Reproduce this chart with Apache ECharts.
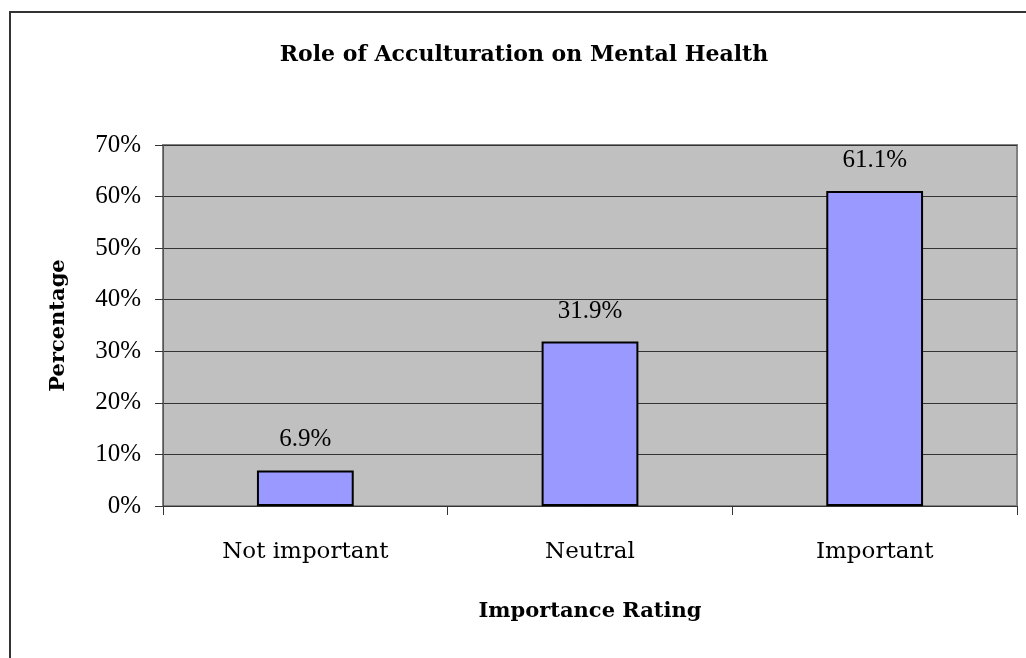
<!DOCTYPE html>
<html>
<head>
<meta charset="utf-8">
<script src="https://cdn.jsdelivr.net/npm/echarts@6/dist/echarts.min.js"></script>
<style>
  html, body { margin: 0; padding: 0; background: #fff; }
  #chart { width: 1026px; height: 658px; }
</style>
</head>
<body>
<div id="chart"></div>
<script>
const categories = ['Not important', 'Neutral', 'Important'];
const percentages = [6.9, 31.9, 61.1];
const yTicks = { min: 0, max: 70, interval: 10 };

const serif = '"DejaVu Serif", serif';
const timesLike = '"Liberation Serif", "Times New Roman", serif';

const chart = echarts.init(document.getElementById('chart'));

chart.setOption({
  animation: false,
  backgroundColor: '#fff',
  graphic: [
    {
      type: 'rect',
      shape: { x: 10, y: 12, width: 1040, height: 680 },
      style: { fill: 'none', stroke: '#333', lineWidth: 2 },
      silent: true,
    },
    {
      type: 'text',
      x: 524,
      y: 55,
      style: {
        text: 'Role of Acculturation on Mental Health',
        font: 'bold 22px ' + serif,
        fill: '#000',
        align: 'center',
        verticalAlign: 'middle',
      },
    },
  ],
  grid: {
    left: 163,
    top: 145,
    right: 9,
    bottom: 152,
    show: true,
    backgroundColor: '#C0C0C0',
    borderColor: '#808080',
    borderWidth: 2,
  },
  xAxis: {
    type: 'category',
    data: categories,
    name: 'Importance Rating',
    nameLocation: 'middle',
    nameGap: 95,
    nameTextStyle: { fontFamily: serif, fontWeight: 'bold', fontSize: 21, color: '#000' },
    axisLine: { lineStyle: { color: '#333', width: 1 } },
    axisTick: { show: true, length: 9, lineStyle: { color: '#333' } },
    axisLabel: { fontFamily: serif, fontSize: 23, color: '#000', margin: 35 },
  },
  yAxis: {
    type: 'value',
    min: yTicks.min,
    max: yTicks.max,
    interval: yTicks.interval,
    name: 'Percentage',
    nameLocation: 'middle',
    nameRotate: 90,
    nameGap: 94,
    nameTextStyle: { fontFamily: serif, fontWeight: 'bold', fontSize: 21, color: '#000' },
    axisLine: { show: true, lineStyle: { color: '#555', width: 1 } },
    axisTick: { show: true, length: 8, lineStyle: { color: '#333' } },
    axisLabel: {
      fontFamily: timesLike,
      fontSize: 25,
      color: '#000',
      margin: 22,
      formatter: '{value}%',
    },
    splitLine: { lineStyle: { color: '#333', width: 1 } },
  },
  series: [
    {
      type: 'bar',
      data: percentages,
      barWidth: '34%',
      itemStyle: { color: '#9999FF', borderColor: '#000', borderWidth: 2 },
      label: {
        show: true,
        position: 'top',
        distance: 18,
        fontFamily: timesLike,
        fontSize: 25,
        color: '#000',
        formatter: (p) => p.value.toFixed(1) + '%',
      },
    },
  ],
});
</script>
</body>
</html>
